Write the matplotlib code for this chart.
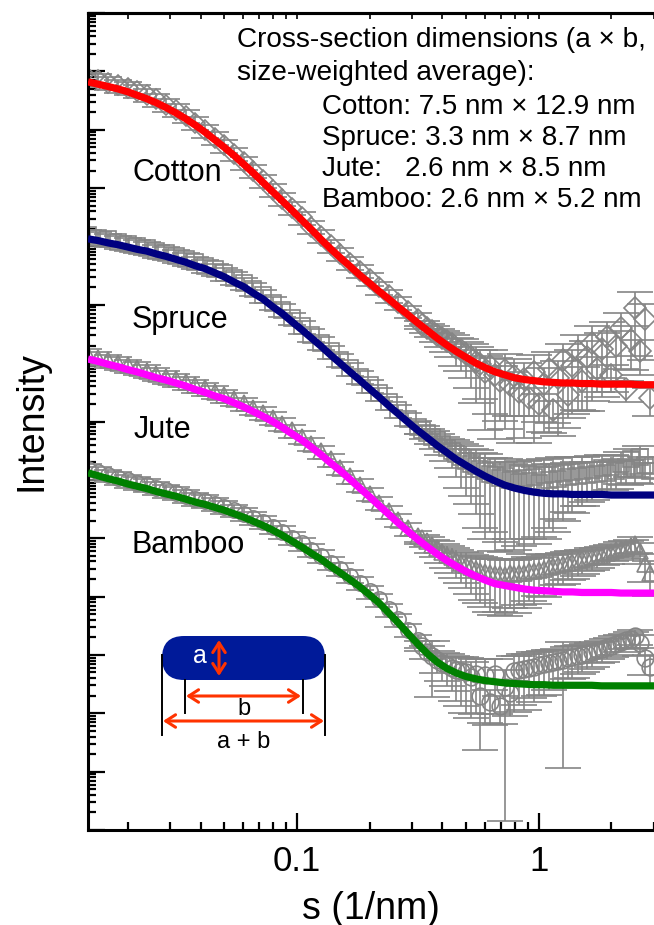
import numpy as np
import matplotlib
matplotlib.use("Agg")
import matplotlib.pyplot as plt
from matplotlib.ticker import LogLocator, FixedLocator, FixedFormatter, NullFormatter
from matplotlib.patches import FancyBboxPatch

plt.rcParams['font.family'] = ['Liberation Sans', 'DejaVu Sans']

# scattering vector of the measured points (1/nm): coarse below 0.33, fine above
s_low = [0.0137, 0.0151, 0.0166, 0.0182, 0.0200, 0.0219, 0.0240, 0.0263, 0.0288, 0.0316,
         0.0347, 0.0380, 0.0417, 0.0457, 0.0501, 0.0550, 0.0603, 0.0661, 0.0724, 0.0794,
         0.0871, 0.0955, 0.105, 0.115, 0.126, 0.138, 0.151, 0.166, 0.182, 0.200,
         0.219, 0.240, 0.263, 0.288, 0.316]
s_high = [0.331, 0.347, 0.363, 0.380, 0.398, 0.417, 0.437, 0.457, 0.479, 0.501,
          0.525, 0.550, 0.575, 0.603, 0.631, 0.661, 0.692, 0.724, 0.759, 0.794,
          0.832, 0.871, 0.912, 0.955, 1.00, 1.05, 1.10, 1.15, 1.20, 1.26,
          1.32, 1.38, 1.45, 1.51, 1.58, 1.66, 1.74, 1.82, 1.91, 2.00,
          2.09, 2.19, 2.29, 2.40, 2.51, 2.63, 2.75, 2.88]

# measured intensities, log10 (curves shifted vertically for clarity)
cotton_low = [12.88, 12.85, 12.80, 12.76, 12.72, 12.67, 12.60, 12.52, 12.43, 12.34,
              12.24, 12.12, 11.99, 11.86, 11.73, 11.59, 11.44, 11.29, 11.13, 10.97,
              10.82, 10.66, 10.50, 10.34, 10.18, 10.02, 9.87, 9.72, 9.58, 9.44,
              9.30, 9.16, 9.03, 8.89, 8.76]
cotton_high = [8.66, 8.60, 8.55, 8.49, 8.43, 8.38, 8.33, 8.26, 8.22, 8.15,
               8.10, 8.02, 7.98, 7.85, 7.95, 7.80, 7.70, 7.88, 7.62, 7.78,
               7.50, 7.72, 7.40, 7.85, 7.30, 7.65, 7.90, 7.20, 7.75, 8.05,
               7.45, 7.95, 8.20, 7.70, 8.10, 8.35, 7.90, 8.25, 8.45, 7.80,
               8.30, 8.60, 7.55, 8.40, 8.95, 8.20, 8.75, 7.40]
spruce_low = [10.19, 10.15, 10.12, 10.08, 10.05, 10.01, 9.98, 9.93, 9.89, 9.84,
              9.79, 9.73, 9.67, 9.61, 9.54, 9.46, 9.37, 9.27, 9.16, 9.03,
              8.91, 8.77, 8.63, 8.49, 8.35, 8.20, 8.06, 7.91, 7.77, 7.62,
              7.48, 7.33, 7.19, 7.05, 6.91]
spruce_high = [6.86, 6.80, 6.74, 6.68, 6.61, 6.55, 6.50, 6.44, 6.39, 6.33,
               6.28, 6.24, 6.18, 6.15, 6.10, 6.08, 6.03, 6.06, 5.99, 6.02,
               5.96, 6.03, 5.98, 6.05, 5.95, 6.08, 6.00, 6.10, 6.02, 6.12,
               6.05, 6.13, 6.07, 6.15, 6.08, 6.17, 6.10, 6.20, 6.12, 6.22,
               6.15, 6.28, 6.18, 6.35, 6.20, 6.40, 6.25, 6.15]
jute_low = [8.14, 8.09, 8.05, 8.01, 7.96, 7.92, 7.87, 7.82, 7.77, 7.72,
            7.67, 7.62, 7.57, 7.51, 7.45, 7.39, 7.31, 7.23, 7.15, 7.06,
            6.96, 6.85, 6.74, 6.62, 6.49, 6.35, 6.21, 6.06, 5.91, 5.76,
            5.61, 5.46, 5.31, 5.17, 5.03]
jute_high = [5.00, 4.95, 4.88, 4.83, 4.77, 4.72, 4.67, 4.62, 4.58, 4.54,
             4.50, 4.47, 4.44, 4.42, 4.40, 4.38, 4.39, 4.37, 4.40, 4.38,
             4.41, 4.40, 4.44, 4.43, 4.46, 4.48, 4.50, 4.52, 4.54, 4.56,
             4.58, 4.60, 4.62, 4.64, 4.66, 4.68, 4.70, 4.72, 4.74, 4.77,
             4.79, 4.82, 4.84, 4.87, 4.90, 4.78, 4.55, 4.40]
bamboo_low = [6.18, 6.13, 6.08, 6.04, 5.99, 5.95, 5.91, 5.86, 5.82, 5.78,
              5.73, 5.68, 5.64, 5.59, 5.54, 5.48, 5.42, 5.35, 5.28, 5.20,
              5.11, 5.01, 4.91, 4.80, 4.70, 4.58, 4.47, 4.35, 4.23, 4.09,
              3.95, 3.78, 3.61, 3.43, 3.25]
bamboo_high = [3.16, 3.05, 2.98, 2.92, 2.86, 2.82, 2.78, 2.74, 2.72, 2.70,
               2.62, 2.68, 2.30, 2.66, 2.20, 2.68, 2.12, 2.45, 2.35, 2.72,
               2.74, 2.76, 2.78, 2.80, 2.82, 2.84, 2.86, 2.88, 2.90, 2.92,
               2.94, 2.96, 2.98, 3.00, 3.02, 3.05, 3.08, 3.10, 3.13, 3.16,
               3.19, 3.22, 3.25, 3.28, 3.32, 3.20, 2.95, 2.80]

# relative errors
err_low = [0.25] * 35
cotton_err = [0.15, 0.18, 0.2, 0.25, 0.3, 0.35, 0.4, 0.5, 0.55, 0.6,
              0.7, 0.8, 0.75, 0.9, 0.85, 0.92, 0.8, 0.9, 0.7, 0.93,
              0.6, 0.9, 0.5, 0.94, 0.5, 0.85, 0.92, 0.4, 0.9, 0.93,
              0.6, 0.85, 0.9, 0.7, 0.88, 0.9, 0.6, 0.85, 0.8, 0.5,
              0.75, 0.8, 0.4, 0.7, 0.85, 0.6, 0.8, 0.5]
spruce_err = [0.15, 0.2, 0.25, 0.3, 0.35, 0.4, 0.5, 0.6, 0.7, 0.75,
              0.8, 0.85, 0.9, 0.93, 0.9, 0.95, 0.92, 0.95, 0.9, 0.94,
              0.92, 0.95, 0.9, 0.93, 0.88, 0.92, 0.85, 0.9, 0.8, 0.85,
              0.75, 0.8, 0.7, 0.75, 0.65, 0.7, 0.6, 0.65, 0.55, 0.6,
              0.5, 0.55, 0.45, 0.5, 0.45, 0.5, 0.4, 0.4]
jute_err = [0.15, 0.2, 0.25, 0.3, 0.35, 0.4, 0.45, 0.5, 0.55, 0.6,
            0.65, 0.7, 0.72, 0.75, 0.78, 0.8, 0.78, 0.8, 0.75, 0.78,
            0.72, 0.75, 0.7, 0.72, 0.65, 0.68, 0.6, 0.62, 0.55, 0.55,
            0.5, 0.5, 0.45, 0.45, 0.4, 0.4, 0.38, 0.35, 0.35, 0.32,
            0.3, 0.3, 0.28, 0.28, 0.3, 0.4, 0.5, 0.6]
bamboo_err = [0.2, 0.25, 0.8, 0.4, 0.5, 0.55, 0.6, 0.7, 0.75, 0.8,
              0.8, 0.8, 0.88, 0.85, 0.6, 0.8, 0.5, 0.995, 0.6, 0.8,
              0.75, 0.8, 0.7, 0.75, 0.7, 0.7, 0.65, 0.6, 0.6, 0.986,
              0.55, 0.55, 0.5, 0.5, 0.45, 0.45, 0.4, 0.4, 0.38, 0.35,
              0.35, 0.32, 0.3, 0.3, 0.3, 0.4, 0.5, 0.55]

# model fits (rounded rectangular cross-section), log10
s_fit = [0.0137, 0.0151, 0.0166, 0.0182, 0.0200, 0.0219, 0.0240, 0.0263, 0.0288, 0.0316,
         0.0347, 0.0380, 0.0417, 0.0457, 0.0501, 0.0550, 0.0603, 0.0661, 0.0724, 0.0794,
         0.0871, 0.0955, 0.105, 0.115, 0.126, 0.138, 0.151, 0.166, 0.182, 0.200,
         0.219, 0.240, 0.263, 0.288, 0.316, 0.347, 0.380, 0.417, 0.457, 0.501,
         0.550, 0.603, 0.661, 0.724, 0.794, 0.871, 0.955, 1.05, 1.15, 1.26,
         1.38, 1.51, 1.66, 1.82, 2.00, 2.19, 2.40, 2.63, 3.00]
cotton_fit = [12.82, 12.78, 12.74, 12.70, 12.65, 12.59, 12.53, 12.46, 12.38, 12.29,
              12.19, 12.08, 11.96, 11.83, 11.70, 11.56, 11.41, 11.26, 11.10, 10.94,
              10.78, 10.62, 10.45, 10.29, 10.12, 9.96, 9.81, 9.66, 9.51, 9.37,
              9.23, 9.10, 8.96, 8.83, 8.69, 8.56, 8.43, 8.31, 8.20, 8.10,
              8.00, 7.92, 7.85, 7.80, 7.75, 7.72, 7.70, 7.68, 7.67, 7.66,
              7.66, 7.65, 7.65, 7.64, 7.64, 7.64, 7.64, 7.63, 7.63]
spruce_fit = [10.13, 10.10, 10.06, 10.03, 9.99, 9.95, 9.92, 9.87, 9.83, 9.78,
              9.73, 9.67, 9.62, 9.55, 9.48, 9.39, 9.31, 9.20, 9.10, 8.97,
              8.85, 8.71, 8.57, 8.43, 8.29, 8.14, 8.00, 7.85, 7.71, 7.56,
              7.42, 7.27, 7.13, 6.99, 6.85, 6.72, 6.59, 6.47, 6.35, 6.25,
              6.15, 6.06, 5.98, 5.91, 5.86, 5.82, 5.79, 5.77, 5.76, 5.76,
              5.75, 5.75, 5.75, 5.75, 5.74, 5.74, 5.74, 5.74, 5.74]
jute_fit = [8.07, 8.03, 7.98, 7.94, 7.89, 7.85, 7.80, 7.75, 7.71, 7.66,
            7.61, 7.55, 7.50, 7.44, 7.39, 7.32, 7.25, 7.17, 7.09, 7.00,
            6.90, 6.79, 6.68, 6.56, 6.43, 6.29, 6.16, 6.01, 5.86, 5.71,
            5.56, 5.41, 5.26, 5.12, 4.98, 4.85, 4.73, 4.62, 4.52, 4.43,
            4.35, 4.28, 4.22, 4.19, 4.16, 4.13, 4.11, 4.10, 4.09, 4.08,
            4.08, 4.07, 4.07, 4.07, 4.07, 4.06, 4.06, 4.06, 4.06]
bamboo_fit = [6.12, 6.07, 6.02, 5.98, 5.93, 5.89, 5.85, 5.80, 5.76, 5.72,
              5.67, 5.62, 5.58, 5.53, 5.48, 5.42, 5.36, 5.29, 5.22, 5.14,
              5.05, 4.95, 4.85, 4.74, 4.64, 4.52, 4.41, 4.29, 4.17, 4.03,
              3.89, 3.72, 3.55, 3.37, 3.19, 3.02, 2.88, 2.77, 2.69, 2.63,
              2.59, 2.56, 2.54, 2.52, 2.51, 2.50, 2.49, 2.49, 2.48, 2.48,
              2.48, 2.48, 2.48, 2.47, 2.47, 2.47, 2.47, 2.47, 2.47]

samples = ['Cotton', 'Spruce', 'Jute', 'Bamboo']
dims = ['7.5 nm \u00d7 12.9 nm', '3.3 nm \u00d7 8.7 nm', '2.6 nm \u00d7 8.5 nm', '2.6 nm \u00d7 5.2 nm']

gray = '#858585'
series = [
    (cotton_low, cotton_high, cotton_err, cotton_fit, 'D', '#ff0000'),
    (spruce_low, spruce_high, spruce_err, spruce_fit, 's', '#000080'),
    (jute_low, jute_high, jute_err, jute_fit, '^', '#ff00ff'),
    (bamboo_low, bamboo_high, bamboo_err, bamboo_fit, 'o', '#008000'),
]

fig = plt.figure(figsize=(6.54, 9.25), dpi=100)
ax = fig.add_axes([88 / 654, 95 / 925, 566 / 654, 817 / 925])

for low, high, err, fit, mk, col in series:
    small = 10 if mk == 'D' else 11
    big = 11 if mk == 'D' else 12
    for ss, lg, rel, ms, cs in [(s_low, low, err_low, small, 10), (s_high, high, err, big, 13)]:
        I = 10 ** np.array(lg)
        ax.errorbar(ss, I, yerr=np.array(rel) * I, fmt=mk, ms=ms, mfc='none', mec=gray, mew=1.2,
                    ecolor=gray, elinewidth=1.2, capsize=cs, capthick=1.2, zorder=2)
    ax.plot(s_fit, 10 ** np.array(fit), color=col, lw=5.2, zorder=3, solid_capstyle='butt')

ax.set_xscale('log')
ax.set_yscale('log')
ax.set_xlim(0.0137, 3.0)
ax.set_ylim(1, 1e14)

ax.xaxis.set_major_locator(FixedLocator([0.1, 1]))
ax.xaxis.set_major_formatter(FixedFormatter(['0.1', '1']))
ax.xaxis.set_minor_locator(LogLocator(base=10, subs=np.arange(2, 10)))
ax.xaxis.set_minor_formatter(NullFormatter())
ax.yaxis.set_major_locator(LogLocator(base=10, numticks=30))
ax.yaxis.set_minor_locator(LogLocator(base=10, subs=np.arange(2, 10), numticks=30))
ax.yaxis.set_major_formatter(NullFormatter())
ax.yaxis.set_minor_formatter(NullFormatter())

ax.tick_params(which='both', direction='in', width=1.6, right=False, top=False)
ax.tick_params(which='major', length=12, labelsize=25, pad=11)
ax.tick_params(which='minor', length=6)
for side in ['left', 'bottom', 'top']:
    ax.spines[side].set_linewidth(2.2)
ax.spines['right'].set_visible(False)

# small ticks along the top frame
top = ax.secondary_xaxis('top')
top.xaxis.set_major_locator(FixedLocator([0.1, 1]))
top.xaxis.set_minor_locator(LogLocator(base=10, subs=np.arange(2, 10)))
top.xaxis.set_major_formatter(NullFormatter())
top.xaxis.set_minor_formatter(NullFormatter())
top.tick_params(which='both', direction='in', length=4, width=1.2)
top.spines['top'].set_linewidth(2.2)

ax.set_xlabel('s (1/nm)', fontsize=27, labelpad=9)
ax.set_ylabel('Intensity', fontsize=27)
ax.yaxis.set_label_coords(-0.068, 0.5)

# overlay in pixel units for labels and the cross-section sketch
ov = fig.add_axes([0, 0, 1, 1])
ov.set_xlim(0, 654)
ov.set_ylim(925, 0)
ov.axis('off')

for name, (x, y) in zip(samples, [(132, 173), (132, 320), (134, 430), (132, 545)]):
    ov.text(x, y, name, fontsize=22, ha='left', va='center')

ov.text(237, 40, 'Cross-section dimensions (a \u00d7 b,', fontsize=20.2, va='center')
ov.text(237, 73, 'size-weighted average):', fontsize=20.2, va='center')
for k, (name, d) in enumerate(zip(samples, dims)):
    gap = '   ' if name == 'Jute' else ' '
    ov.text(322, 107 + 31 * k, name + ':' + gap + d, fontsize=20, va='center')

box = FancyBboxPatch((162, 636), 163, 44, boxstyle='round,pad=0,rounding_size=22',
                     fc='#001a99', ec='none', zorder=1)
ov.add_patch(box)
for x, y0, y1 in [(162, 655, 735), (325, 655, 735), (185, 680, 713), (303, 680, 713)]:
    ov.plot([x, x], [y0, y1], color='black', lw=1.4)
red = '#ff3300'
arrow = dict(arrowstyle='<->,head_length=0.7,head_width=0.45', color=red, lw=2.2,
             shrinkA=0, shrinkB=0)
ov.annotate('', xy=(219, 640), xytext=(219, 676), arrowprops=arrow)
ov.annotate('', xy=(301, 696), xytext=(186, 696), arrowprops=arrow)
ov.annotate('', xy=(324, 721), xytext=(163, 721), arrowprops=arrow)
ov.text(200, 656, 'a', color='white', fontsize=18, ha='center', va='center')
ov.text(244, 709, 'b', fontsize=17, ha='center', va='center')
ov.text(244, 742, 'a + b', fontsize=17, ha='center', va='center')

fig.savefig('out.png', dpi=100)
